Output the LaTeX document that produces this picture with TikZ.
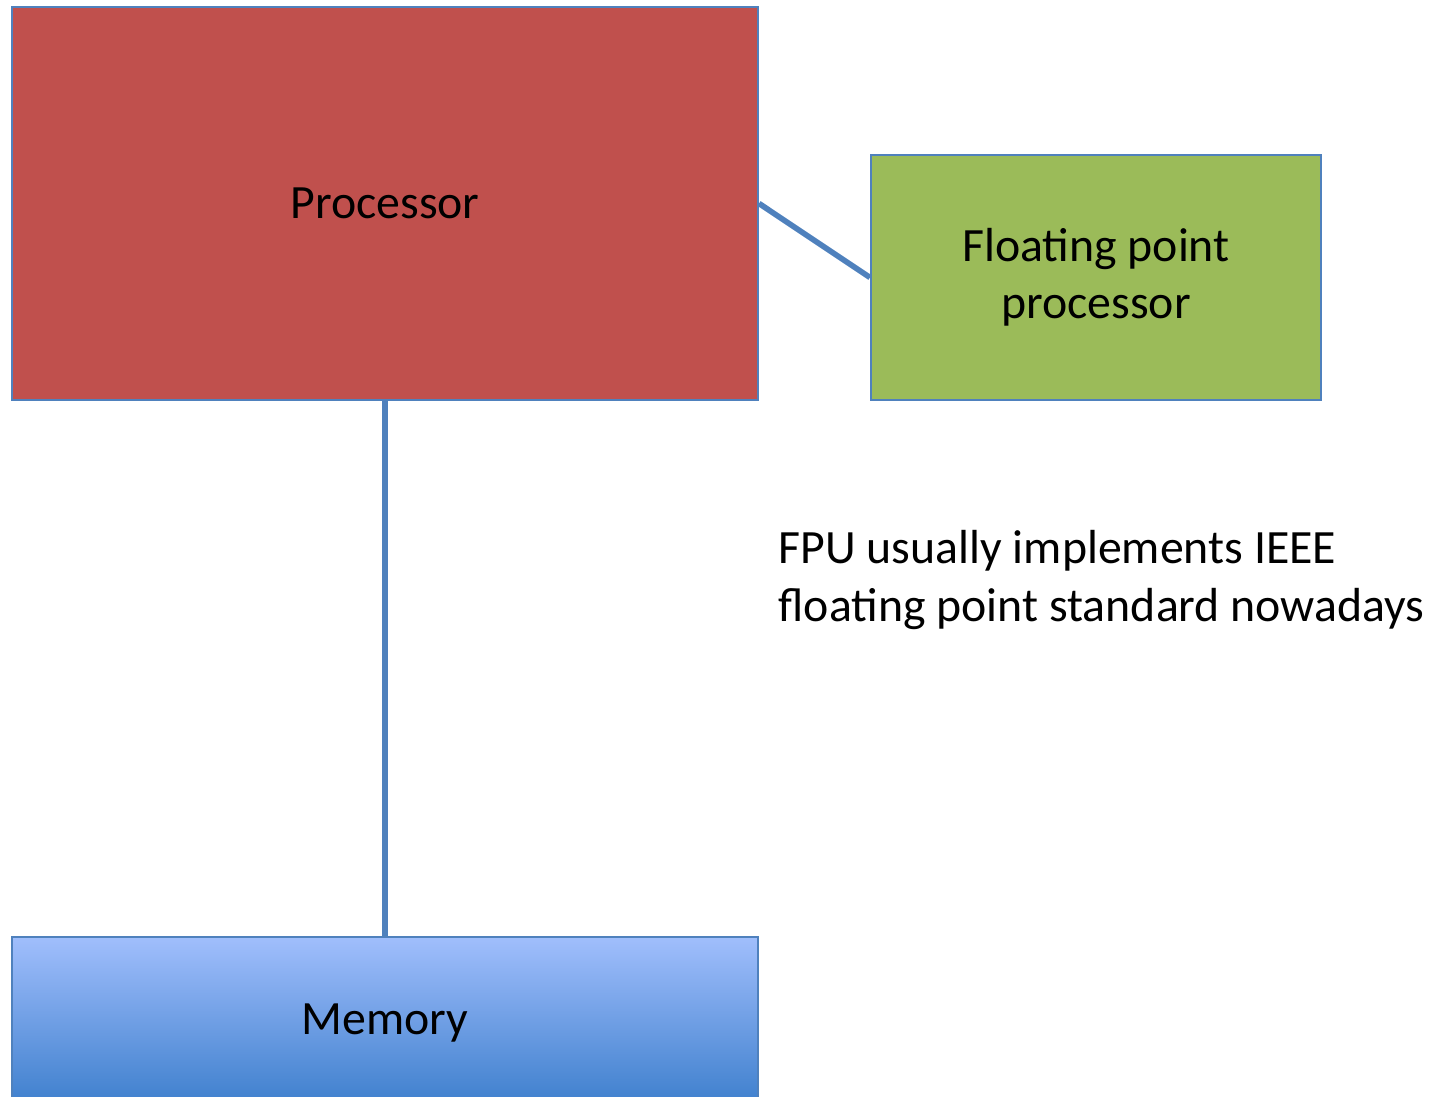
\documentclass[tikz,border=0pt]{standalone}
\usepackage{fontspec}
\setmainfont{Carlito}
\usepackage{tikz}
\usetikzlibrary{positioning}
\definecolor{cred}{HTML}{C0504D}
\definecolor{cgreen}{HTML}{9BBB59}
\definecolor{cblue}{HTML}{4F81BD}
\definecolor{memtop}{RGB}{160,190,252}
\definecolor{membot}{RGB}{60,126,204}

\begin{document}
\begin{tikzpicture}[
    unit/.style={draw=cblue, line width=0.6pt, align=center, inner sep=0pt,
        font=\fontsize{13.6pt}{16.3pt}\selectfont},
    link/.style={draw=cblue, line width=1.6pt},
]
    \useasboundingbox (0,0) rectangle (14.43,-10.97);

    % Processor
    \node[unit, fill=cred, minimum width=7.46cm, minimum height=3.93cm] (cpu) at (3.85,-2.035) {Processor};

    % Floating point unit
    \node[unit, fill=cgreen, minimum width=4.50cm, minimum height=2.45cm] (fpu) at (10.96,-2.775) {Floating point\\processor};

    % Memory
    \node[unit, top color=memtop, bottom color=membot, minimum width=7.46cm, minimum height=1.72cm] (mem) at (3.85,-10.23) {Memory};

    % Links
    \draw[link] (cpu.east) -- (fpu.west);
    \draw[link] (cpu.south) -- (mem.north);

    % Note
    \node[anchor=west, align=left, inner sep=0pt, font=\fontsize{13.6pt}{16.3pt}\selectfont] (note) at (7.78,-5.80)
        {FPU usually implements IEEE\\floating point standard nowadays};
\end{tikzpicture}
\end{document}
